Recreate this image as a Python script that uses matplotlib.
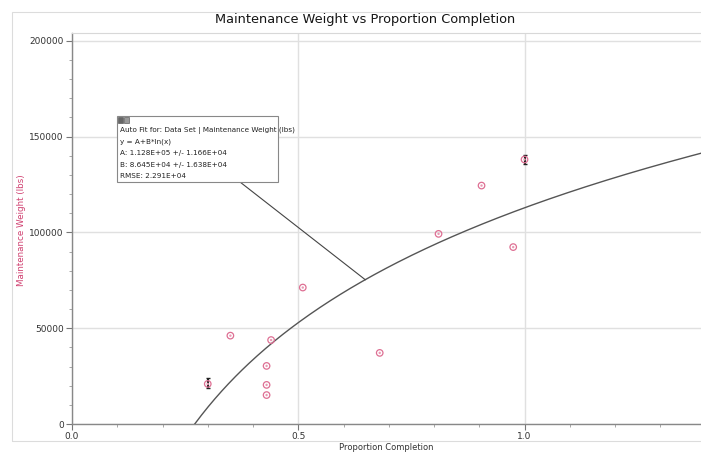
import numpy as np
import matplotlib
matplotlib.use("Agg")
import matplotlib.pyplot as plt
from matplotlib.patches import Rectangle

# Data
proportion = [0.30, 0.35, 0.43, 0.43, 0.43, 0.44, 0.51, 0.68, 0.81, 0.905, 0.975, 1.0]
weight = [20900, 46100, 30300, 20400, 15100, 43800, 71200, 37100, 99200, 124400, 92300, 138000]

# points that carry a small error bar
err_x = [0.30, 1.0]
err_y = [21500, 138000]
err_size = [2500, 2500]

# fit y = A + B*ln(x)
fit_a = 1.128e5
fit_b = 8.645e4
fit_lines = [
    "Auto Fit for: Data Set | Maintenance Weight (lbs)",
    "y = A+B*ln(x)",
    "A: 1.128E+05 +/- 1.166E+04",
    "B: 8.645E+04 +/- 1.638E+04",
    "RMSE: 2.291E+04",
]

fig = plt.figure(figsize=(7.01, 4.54), dpi=100)

# light outer frame
fig.patches.append(Rectangle((12 / 701, 13 / 454), 1, 429 / 454, transform=fig.transFigure,
                             fill=False, edgecolor="#dcdcdc", linewidth=0.8))

ax = fig.add_axes([72 / 701, 30 / 454, 629 / 701, 391 / 454])
ax.set_xlim(0, 1.39)
ax.set_ylim(0, 204000)

# fit curve
xs = np.linspace(np.exp(-fit_a / fit_b), 1.39, 300)
ax.plot(xs, fit_a + fit_b * np.log(xs), color="#555555", linewidth=1.0, zorder=3)

ax.errorbar(err_x, err_y, yerr=err_size, fmt="none", ecolor="#222222",
            elinewidth=1.5, capsize=1.5, capthick=1.0, zorder=4)
ax.scatter(proportion, weight, s=22, facecolors="none", edgecolors="#de6f93",
           linewidths=0.9, zorder=5)
ax.scatter(proportion, weight, s=3, facecolors="#e89ab3", edgecolors="none", zorder=5)

# grid and ticks
ax.set_xticks([0.0, 0.5, 1.0])
ax.set_xticks(np.arange(0, 1.4, 0.1), minor=True)
ax.set_yticks([0, 50000, 100000, 150000, 200000])
ax.set_yticks(np.arange(0, 204000, 10000), minor=True)
ax.set_xticklabels(["0.0", "0.5", "1.0"])
ax.grid(True, which="major", color="#e0e0e0", linewidth=1.0)
ax.set_axisbelow(True)
ax.tick_params(which="major", direction="out", length=4, width=0.8, color="#777777",
               labelsize=6.5, labelcolor="#333333", pad=2)
ax.tick_params(which="minor", direction="out", length=2, width=0.6, color="#999999")
for side in ["left", "bottom"]:
    ax.spines[side].set_color("#888888")
    ax.spines[side].set_linewidth(1.0)
ax.spines["top"].set_color("#d8d8d8")
ax.spines["right"].set_visible(False)

ax.set_xlabel("Proportion Completion", fontsize=6.0, color="#333333", labelpad=1)
fig.text(22 / 701, 1 - 230 / 454, "Maintenance Weight (lbs)", rotation=90,
         ha="center", va="center", fontsize=6.3, color="#d04070")

fig.text(365 / 701, 1 - 19 / 454, "Maintenance Weight vs Proportion Completion",
         ha="center", va="center", fontsize=9.3, color="#151515")

# fit annotation box
box_x0, box_y0, box_x1, box_y1 = 117, 116, 278, 182
fig.patches.append(Rectangle((box_x0 / 701, 1 - box_y1 / 454), (box_x1 - box_x0) / 701,
                             (box_y1 - box_y0) / 454, transform=fig.transFigure,
                             facecolor="white", edgecolor="#888888", linewidth=0.8, zorder=6))
for k in range(2):
    fig.patches.append(Rectangle(((box_x0 + 1 + k * 6) / 701, 1 - (box_y0 + 7) / 454), 5 / 701, 6 / 454,
                                 transform=fig.transFigure, facecolor="#666666" if k == 0 else "#999999",
                                 edgecolor="#444444", linewidth=0.4, zorder=7))
for i, line in enumerate(fit_lines):
    fig.text((box_x0 + 3) / 701, 1 - (box_y0 + 14 + i * 11.5) / 454, line,
             ha="left", va="center", fontsize=5.2, color="#222222", zorder=7)

# leader line from the box to the curve
x_tip = 0.648
y_tip = fit_a + fit_b * np.log(x_tip)
tip = fig.transFigure.inverted().transform(ax.transData.transform((x_tip, y_tip)))
fig.lines.append(plt.Line2D([240 / 701, tip[0]], [1 - box_y1 / 454, tip[1]],
                            transform=fig.transFigure, color="#444444", linewidth=0.8, zorder=5))

fig.savefig("out.png", dpi=100)
